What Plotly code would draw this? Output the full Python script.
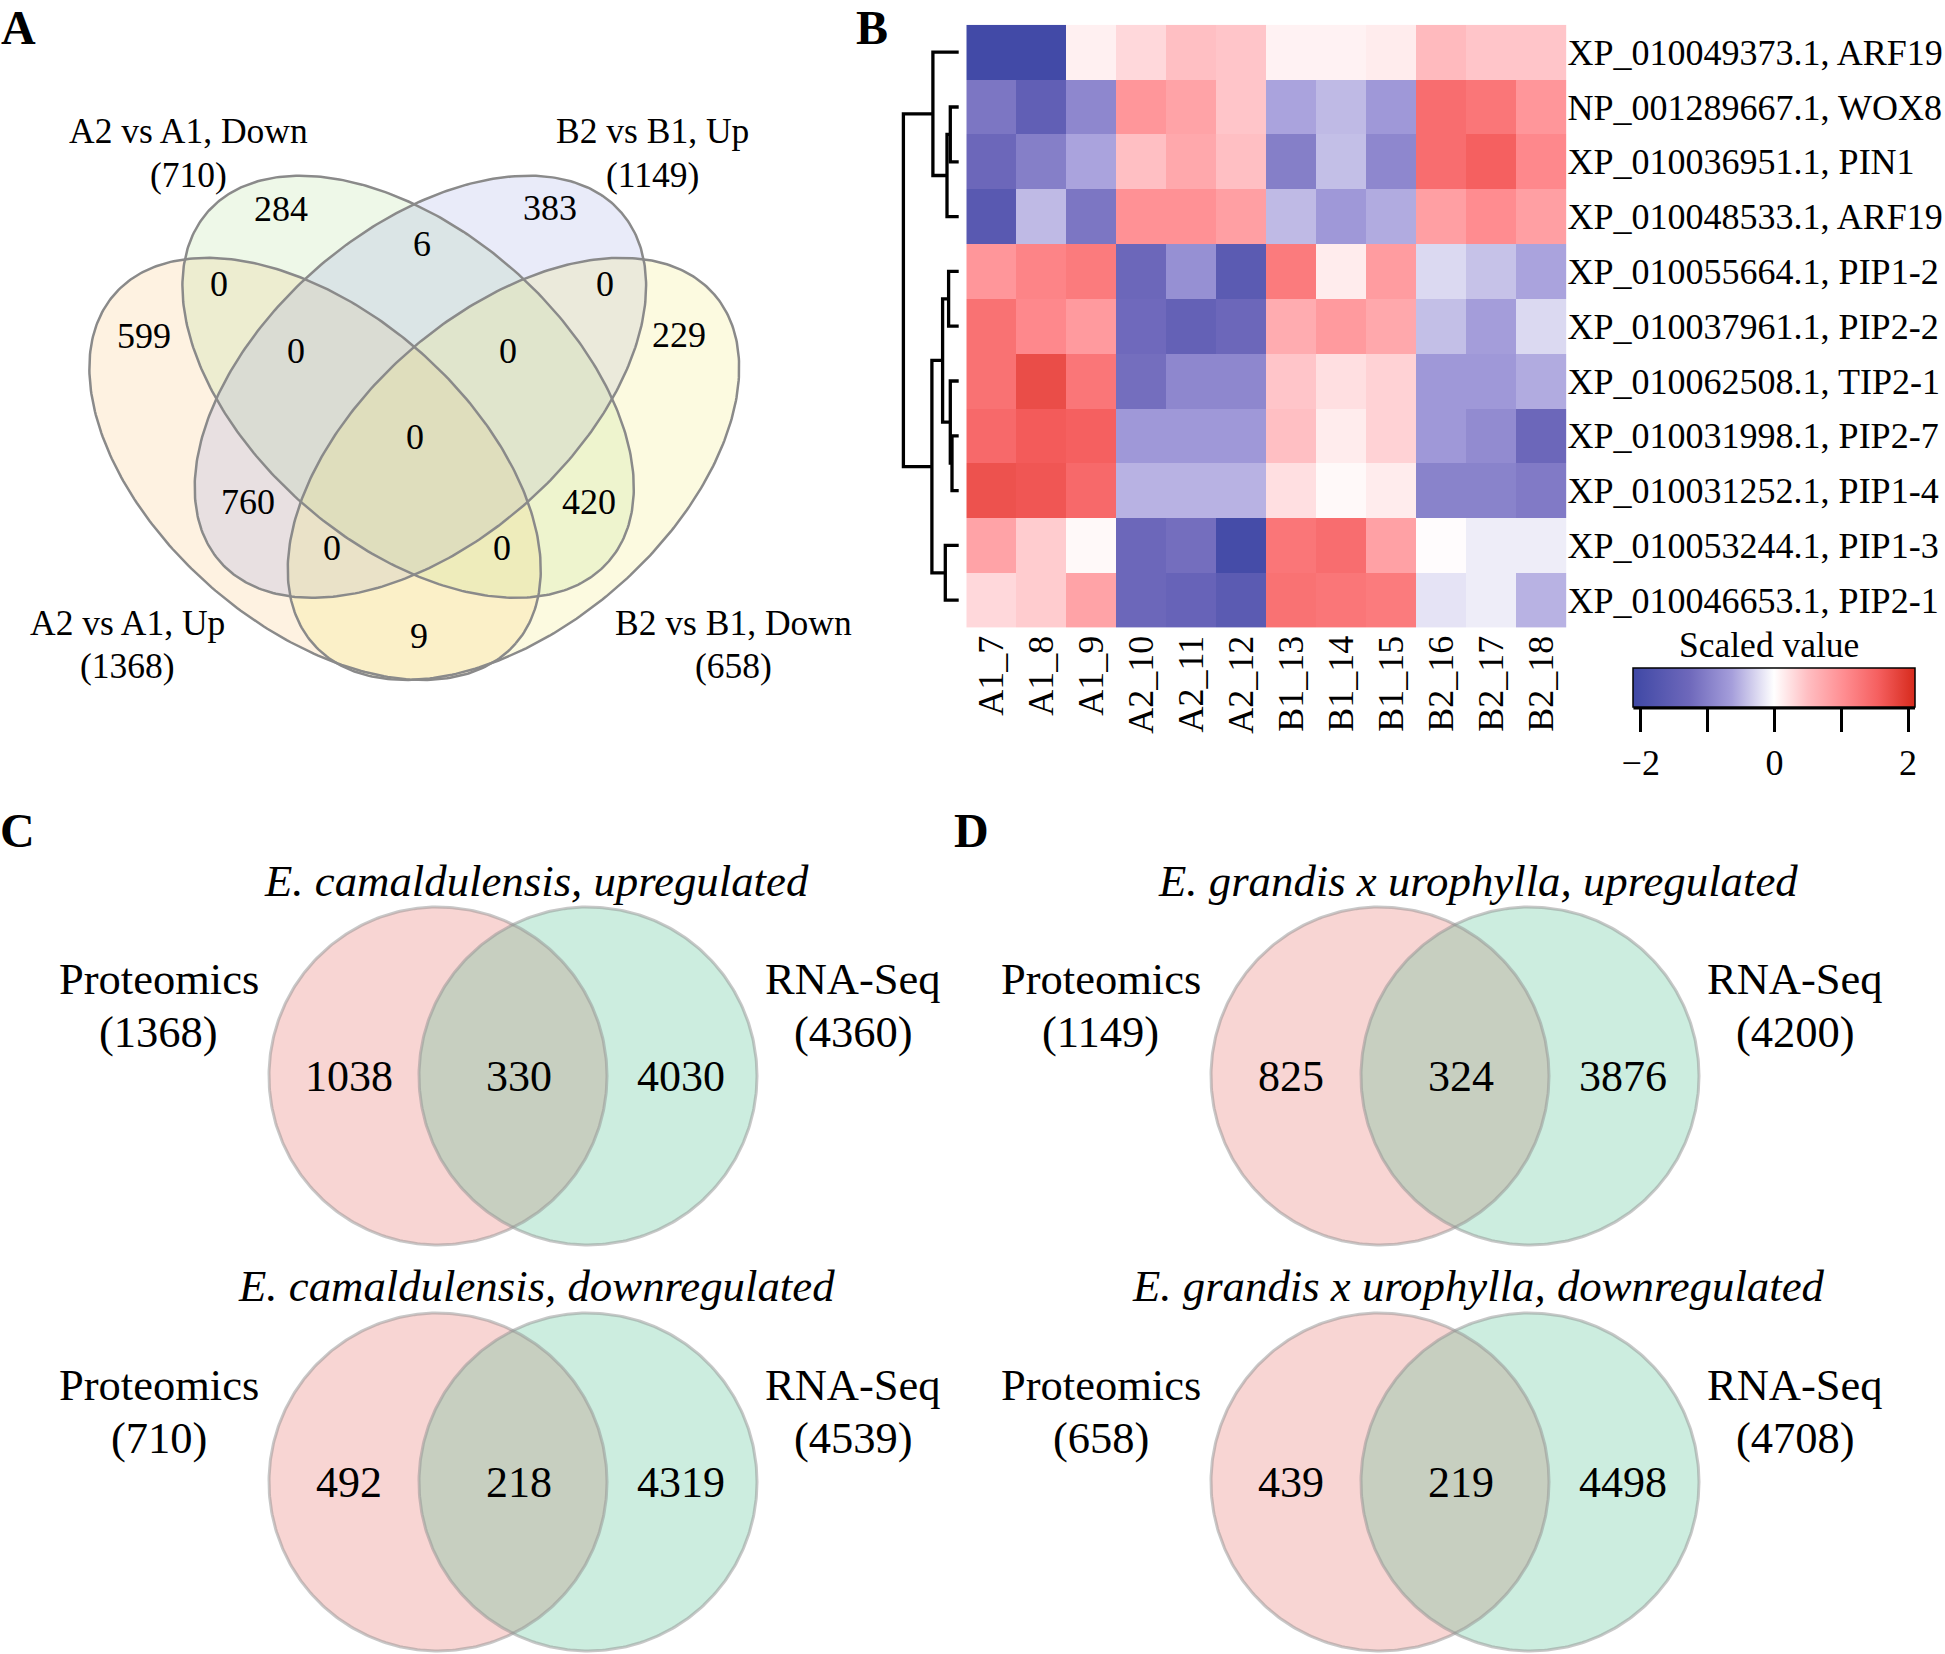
import numpy as np
import plotly.graph_objects as go

W, H = 1945, 1654
SERIF = "Liberation Serif"

# ---------------- data ----------------
# Panel A: four-set Venn diagram
set_names = ["A2 vs A1, Up", "A2 vs A1, Down", "B2 vs B1, Up", "B2 vs B1, Down"]
set_totals = [1368, 710, 1149, 658]
region_counts = [284, 383, 6, 0, 0, 599, 229, 0, 0, 0, 760, 420, 0, 0, 9]

# Panel B: heatmap of scaled values
samples = ["A1_7", "A1_8", "A1_9", "A2_10", "A2_11", "A2_12",
           "B1_13", "B1_14", "B1_15", "B2_16", "B2_17", "B2_18"]
genes = ["XP_010049373.1, ARF19", "NP_001289667.1, WOX8", "XP_010036951.1, PIN1",
         "XP_010048533.1, ARF19", "XP_010055664.1, PIP1-2", "XP_010037961.1, PIP2-2",
         "XP_010062508.1, TIP2-1", "XP_010031998.1, PIP2-7", "XP_010031252.1, PIP1-4",
         "XP_010053244.1, PIP1-3", "XP_010046653.1, PIP2-1"]
scaled = [
    [-2.05, -2.05, 0.12, 0.30, 0.50, 0.45, 0.10, 0.10, 0.15, 0.55, 0.45, 0.45],
    [-1.10, -1.50, -0.90, 0.95, 0.80, 0.45, -0.60, -0.45, -0.70, 1.40, 1.30, 0.95],
    [-1.30, -1.00, -0.60, 0.50, 0.75, 0.50, -1.00, -0.42, -0.90, 1.40, 1.55, 1.10],
    [-1.65, -0.45, -1.10, 1.00, 1.00, 0.85, -0.45, -0.70, -0.55, 0.85, 1.05, 0.85],
    [0.95, 1.15, 1.25, -1.30, -0.80, -1.60, 1.25, 0.15, 0.88, -0.25, -0.40, -0.60],
    [1.35, 1.10, 0.90, -1.25, -1.45, -1.30, 0.70, 0.90, 0.75, -0.42, -0.65, -0.25],
    [1.35, 1.75, 1.30, -1.20, -0.90, -0.90, 0.45, 0.25, 0.35, -0.70, -0.70, -0.55],
    [1.45, 1.60, 1.55, -0.70, -0.70, -0.70, 0.50, 0.15, 0.35, -0.70, -0.85, -1.30],
    [1.70, 1.65, 1.45, -0.50, -0.50, -0.50, 0.25, 0.05, 0.15, -0.95, -0.95, -1.05],
    [0.80, 0.40, 0.05, -1.30, -1.20, -2.00, 1.30, 1.40, 0.82, 0.02, -0.12, -0.12],
    [0.30, 0.40, 0.80, -1.30, -1.40, -1.60, 1.35, 1.30, 1.25, -0.18, -0.12, -0.50],
]
# row dendrogram: (left cluster, right cluster, merge height); leaves 0..10, new ids from 11
dendro_merges = [
    (1, 2, 8.4), (11, 3, 11.7), (0, 12, 25.8),
    (7, 8, 6.7), (6, 14, 8.4), (4, 5, 10.1), (16, 15, 16.1),
    (9, 10, 13.4), (17, 18, 26.8), (13, 19, 55.3),
]

# Panels C, D: two-set Venn diagrams
venn2_titles = ["E. camaldulensis, upregulated", "E. camaldulensis, downregulated",
                "E. grandis x urophylla, upregulated", "E. grandis x urophylla, downregulated"]
venn2_left_only = [1038, 492, 825, 439]
venn2_shared = [330, 218, 324, 219]
venn2_right_only = [4030, 4319, 3876, 4498]
venn2_prot_total = [1368, 710, 1149, 658]
venn2_rna_total = [4360, 4539, 4200, 4708]

# ---------------- helpers ----------------
def px(x):
    return x / W

def py(y):
    return 1 - y / H

annotations = []

def ann(x, y, text, size, italic=False, bold=False, **kw):
    if italic:
        text = "<i>" + text + "</i>"
    if bold:
        text = "<b>" + text + "</b>"
    annotations.append(dict(x=px(x), y=py(y), xref="paper", yref="paper", text=text,
                            showarrow=False, xanchor=kw.get("xanchor", "center"),
                            yanchor=kw.get("yanchor", "middle"), borderpad=0,
                            font=dict(family=SERIF, size=size, color="black")))

def ellipse(cx, cy, a, b, rot):
    t = np.linspace(0, 2 * np.pi, 361)
    r = np.deg2rad(rot)
    x = cx + a * np.cos(t) * np.cos(r) - b * np.sin(t) * np.sin(r)
    y = cy + a * np.cos(t) * np.sin(r) + b * np.sin(t) * np.cos(r)
    return x, y

fig = go.Figure()

# ---------------- Panel A ----------------
# axis x3/y3 in Venn units (749.2 px per unit)
SA = 749.2
XA0, YA0 = 40.56, 818.3
ell_specs = [  # (cx, cy, a, b, rotation, fill)
    (0.3664, 0.4664, 0.355, 0.21, -41, "rgba(250,188,105,0.20)"),
    (0.4906, 0.5760, 0.355, 0.21, -41, "rgba(170,222,140,0.20)"),
    (0.5070, 0.5760, 0.355, 0.21, 41, "rgba(145,155,225,0.20)"),
    (0.6312, 0.4664, 0.355, 0.21, 41, "rgba(240,232,115,0.22)"),
]
for cx, cy, a, b, rot, col in ell_specs:
    ex, ey = ellipse(cx, cy, a, b, rot)
    fig.add_trace(go.Scatter(x=ex, y=ey, mode="lines", fill="toself", fillcolor=col,
                             line=dict(width=0), hoverinfo="skip", xaxis="x3", yaxis="y3"))
for cx, cy, a, b, rot, col in ell_specs:
    ex, ey = ellipse(cx, cy, a, b, rot)
    fig.add_trace(go.Scatter(x=ex, y=ey, mode="lines", line=dict(width=2.5, color="rgb(138,138,138)"),
                             hoverinfo="skip", xaxis="x3", yaxis="y3"))

region_pos = [(281, 209), (550, 208), (421.7, 244), (218.5, 284.5), (605, 284),
              (143.5, 336), (678.5, 334.5), (296, 350.5), (508, 350.5), (414.5, 437),
              (248, 502), (588.5, 502), (332, 548), (502.3, 548), (419, 636.3)]
for (x, y), c in zip(region_pos, region_counts):
    ann(x, y, str(c), 36)

cat_pos = [(127.8, 622.7, 666.1), (188.5, 131.5, 174.9), (652.5, 131.5, 174.9), (733.1, 622.7, 666.1)]
for (x, y1, y2), name, tot in zip(cat_pos, set_names, set_totals):
    ann(x, y1, name, 35.5)
    ann(x, y2, "(%d)" % tot, 35.5)

# ---------------- Panel B ----------------
fig.add_trace(go.Heatmap(
    z=scaled, x=samples, y=genes, zmin=-2.11, zmax=2.11,
    colorscale=[[0.0, "rgb(63,72,165)"], [0.2, "rgb(110,104,187)"], [0.35, "rgb(165,158,219)"],
                [0.5, "rgb(255,255,255)"], [0.62, "rgb(255,190,194)"], [0.75, "rgb(255,140,144)"],
                [0.87, "rgb(245,95,95)"], [1.0, "rgb(214,42,28)"]],
    xaxis="x", yaxis="y", hoverinfo="skip",
    colorbar=dict(orientation="h", x=px(1633.4), xanchor="left", y=py(668), yanchor="top",
                  len=281.6, lenmode="pixels", thickness=39, thicknessmode="pixels",
                  outlinewidth=1.5, outlinecolor="black", xpad=0, ypad=0,
                  ticks="outside", ticklen=25, tickwidth=3, tickcolor="black",
                  tickvals=[-2, -1, 0, 1, 2], ticktext=["\u22122", "", "0", "", "2"],
                  tickfont=dict(family=SERIF, size=36, color="black")),
))
ann(1769, 645, "Scaled value", 35.5)

# dendrogram
n = len(genes)
pos = {i: float(i) for i in range(n)}
hgt = {i: 0.0 for i in range(n)}
dx, dy = [], []
for k, (l, r, h) in enumerate(dendro_merges):
    nid = n + k
    dx += [hgt[l], h, h, hgt[r], None]
    dy += [pos[l], pos[l], pos[r], pos[r], None]
    pos[nid] = (pos[l] + pos[r]) / 2
    hgt[nid] = h
fig.add_trace(go.Scatter(x=dx, y=dy, mode="lines", line=dict(color="black", width=3.3),
                         hoverinfo="skip", xaxis="x2", yaxis="y2"))

# ---------------- Panels C, D ----------------
R2 = 169
pair_centers = [(438, 1076), (438, 1482), (1380, 1076), (1380, 1482)]
title_y = [880.7, 1286.3, 880.7, 1286.3]
PINK = "rgba(233,125,118,0.32)"
GREEN = "rgba(85,195,150,0.30)"
t = np.linspace(0, 2 * np.pi, 361)
for i, (lx, cy) in enumerate(pair_centers):
    rx = lx + 150
    for cx, col in ((lx, PINK), (rx, GREEN)):
        fig.add_trace(go.Scatter(x=cx + R2 * np.cos(t), y=cy + R2 * np.sin(t), mode="lines",
                                 fill="toself", fillcolor=col, line=dict(width=0),
                                 hoverinfo="skip", xaxis="x4", yaxis="y4"))
    for cx in (lx, rx):
        fig.add_trace(go.Scatter(x=cx + R2 * np.cos(t), y=cy + R2 * np.sin(t), mode="lines",
                                 line=dict(width=3, color="rgba(145,145,145,0.5)"),
                                 hoverinfo="skip", xaxis="x4", yaxis="y4"))
    ann(lx - 89.4, cy, str(venn2_left_only[i]), 44)
    ann(lx + 80.5, cy, str(venn2_shared[i]), 44)
    ann(rx + 93, cy, str(venn2_right_only[i]), 44)
    ann(lx - 279.2, cy - 97.3, "Proteomics", 44.5)
    ann(lx - 279.2, cy - 44.5, "(%d)" % venn2_prot_total[i], 44.5)
    ann(rx + 265.4, cy - 97.3, "RNA-Seq", 44.5)
    ann(rx + 265.4, cy - 44.5, "(%d)" % venn2_rna_total[i], 44.5)
    ann(lx + 98, title_y[i], venn2_titles[i], 44.8, italic=True)

# panel letters
ann(18.6, 0.5, "A", 48, bold=True, yanchor="top")
ann(872, 0.5, "B", 48, bold=True, yanchor="top")
ann(17.4, 830, "C", 48, bold=True)
ann(971, 830, "D", 48, bold=True)

# thick line under the colour bar
shapes = [dict(type="line", xref="paper", yref="paper", x0=px(1633.4), x1=px(1915),
               y0=py(707.5), y1=py(707.5), line=dict(color="black", width=4))]

noax = dict(showgrid=False, zeroline=False, showticklabels=False, ticks="", showline=False)
fig.update_layout(
    width=W, height=H, margin=dict(l=0, r=0, t=0, b=0),
    paper_bgcolor="white", plot_bgcolor="rgba(0,0,0,0)", showlegend=False,
    annotations=annotations, shapes=shapes,
    xaxis=dict(domain=[px(966.3), px(1566.6)], tickangle=-90, showgrid=False, zeroline=False,
               ticks="", tickfont=dict(family=SERIF, size=36, color="black"), anchor="y"),
    yaxis=dict(domain=[py(627.6), py(24.8)], side="right", autorange="reversed",
               showgrid=False, zeroline=False, ticks="",
               tickfont=dict(family=SERIF, size=36, color="black"), anchor="x"),
    xaxis2=dict(domain=[px(895), px(962)], range=[63.7, -3.3], anchor="y2", **noax),
    yaxis2=dict(domain=[py(627.6), py(24.8)], range=[10.5, -0.5], anchor="x2", **noax),
    xaxis3=dict(domain=[0, px(870)], range=[-XA0 / SA, (870 - XA0) / SA], anchor="y3", **noax),
    yaxis3=dict(domain=[py(820), 1], range=[(YA0 - 820) / SA, YA0 / SA], anchor="x3", **noax),
    xaxis4=dict(domain=[0, 1], range=[0, W], anchor="y4", **noax),
    yaxis4=dict(domain=[0, 1], range=[H, 0], anchor="x4", **noax),
)

fig.write_html("out.html", config={"displayModeBar": False},
               post_script="document.body.style.margin='0';")
